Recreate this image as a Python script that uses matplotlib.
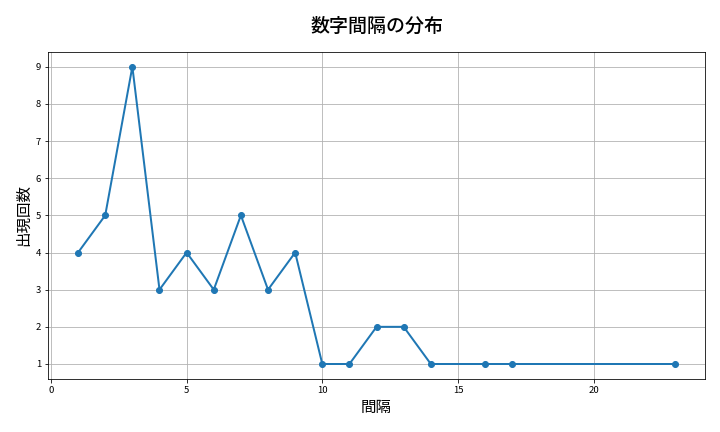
import matplotlib
matplotlib.use("Agg")
import matplotlib.pyplot as plt

plt.rcParams['font.family'] = ['Noto Sans CJK JP', 'DejaVu Sans']

intervals = [1, 2, 3, 4, 5, 6, 7, 8, 9, 10, 11, 12, 13, 14, 16, 17, 23]
counts = [4, 5, 9, 3, 4, 3, 5, 3, 4, 1, 1, 2, 2, 1, 1, 1, 1]

fig, ax = plt.subplots(figsize=(10, 6), dpi=72)
ax.plot(intervals, counts, marker='o', linewidth=2, markersize=6, color='#1f77b4')
ax.set_title('数字間隔の分布', fontsize=19, fontweight='medium', pad=20)
ax.set_xlabel('間隔', fontsize=15.5, labelpad=4)
ax.set_ylabel('出現回数', fontsize=15.5, labelpad=4)
ax.grid(True, color='#b0b0b0', linewidth=0.8)
ax.tick_params(labelsize=9.5)
fig.subplots_adjust(left=0.067, right=0.979, top=0.88, bottom=0.123)
fig.savefig('out.png', dpi=72)
